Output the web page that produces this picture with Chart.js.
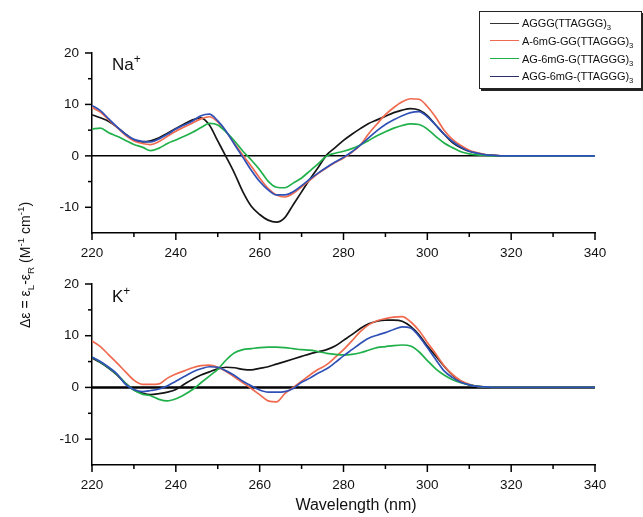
<!DOCTYPE html>
<html>
<head>
<meta charset="utf-8">
<script src="https://cdn.jsdelivr.net/npm/chart.js@4.4.1/dist/chart.umd.min.js"></script>
<style>
  html, body { margin:0; padding:0; background:#fff; }
  body { width:643px; height:517px; position:relative; overflow:hidden; font-family:"Liberation Sans", Arial, sans-serif; color:#111; }
  canvas { position:absolute; left:0; }
  .txt { position:absolute; white-space:nowrap; }
  #legend { position:absolute; left:479px; top:11px; width:161px; height:76px; border:1px solid #222; box-shadow:2px 2px 0 #222; background:#fff; }
  .row { position:absolute; left:10px; height:16px; font-size:11px; line-height:16px; letter-spacing:-0.1px; }
  .sw { display:inline-block; width:29px; height:0; border-top:1.6px solid; vertical-align:middle; margin-right:3px; position:relative; top:-1px; }
  sub, sup { font-size:70%; line-height:0; }
</style>
</head>
<body>
<canvas id="c1" width="643" height="262" style="top:0px"></canvas>
<canvas id="c2" width="643" height="240" style="top:255px"></canvas>

<div class="txt" style="left:112px; top:55px; font-size:17px;">Na<sup>+</sup></div>
<div class="txt" style="left:112px; top:287px; font-size:17px;">K<sup>+</sup></div>
<div class="txt" style="left:-125px; top:255px; width:300px; text-align:center; font-size:14px; line-height:20px; transform:rotate(-90deg);">Δε = ε<sub>L</sub>-ε<sub>R</sub> (M<sup>-1</sup> cm<sup>-1</sup>)</div>
<div class="txt" style="left:256px; top:496px; width:200px; text-align:center; font-size:16px;">Wavelength (nm)</div>

<div id="legend"></div>

<script>
// ---- data ----
const wavelengths = [];
for (let w = 220; w <= 340; w += 2) wavelengths.push(w);

const seriesNames = ['AGGG(TTAGGG)<sub>3</sub>', 'A-6mG-GG(TTAGGG)<sub>3</sub>', 'AG-6mG-G(TTAGGG)<sub>3</sub>', 'AGG-6mG-(TTAGGG)<sub>3</sub>'];
const seriesLabels = ['AGGG(TTAGGG)3', 'A-6mG-GG(TTAGGG)3', 'AG-6mG-G(TTAGGG)3', 'AGG-6mG-(TTAGGG)3'];

const naBlack = [8.0,7.4,6.7,5.6,4.2,3.1,2.7,2.9,3.5,4.4,5.3,6.2,7.0,7.4,6.0,2.9,-0.2,-3.4,-7.0,-9.8,-11.4,-12.5,-12.9,-12.0,-9.5,-7.0,-4.5,-2.2,0.2,1.6,3.0,4.2,5.3,6.3,7.0,7.7,8.4,8.9,9.2,8.9,7.8,6.0,4.2,2.6,1.6,0.9,0.5,0.2,0.1,0,0,0,0,0,0,0,0,0,0,0,0];
const naRed   = [9.4,8.5,7.0,5.5,4.0,2.9,2.4,2.2,2.8,3.8,4.8,5.6,6.4,7.2,7.6,6.6,4.7,2.4,0.1,-2.0,-4.3,-6.3,-7.6,-8.0,-7.3,-6.0,-4.7,-3.4,-2.3,-1.3,-0.4,0.7,2.1,4.3,6.2,8.0,9.4,10.5,11.1,11.0,9.6,7.5,5.0,3.2,2.0,1.1,0.6,0.2,0.1,0,0,0,0,0,0,0,0,0,0,0,0];
const naGreen = [5.2,5.4,4.5,3.8,3.0,2.2,1.7,1.0,1.5,2.4,3.1,3.8,4.6,5.5,6.3,6.0,4.6,2.9,0.9,-0.8,-2.7,-4.9,-6.1,-6.2,-5.3,-4.3,-2.9,-1.5,0.0,0.5,0.9,1.4,2.1,3.0,3.9,4.7,5.4,5.9,6.2,6.1,5.2,3.8,2.5,1.6,0.8,0.4,0.2,0.1,0,0,0,0,0,0,0,0,0,0,0,0,0];
const naBlue  = [9.8,8.8,7.2,5.6,4.2,3.2,2.8,2.7,3.3,4.2,5.2,6.0,6.8,7.8,8.1,6.8,4.8,2.2,-0.3,-2.8,-5.0,-6.6,-7.6,-7.6,-7.0,-5.8,-4.5,-3.3,-2.2,-1.2,-0.3,0.8,2.1,3.5,4.9,6.1,7.0,7.8,8.4,8.6,7.6,6.0,4.2,2.8,1.7,0.9,0.5,0.2,0.1,0,0,0,0,0,0,0,0,0,0,0,0];

const kBlack = [5.7,4.8,3.7,2.4,0.8,-0.5,-1.1,-1.4,-1.2,-0.9,-0.4,0.6,1.6,2.4,3.0,3.6,3.9,3.8,3.5,3.4,3.7,4.0,4.5,5.0,5.5,6.0,6.5,6.9,7.3,8.0,9.1,10.2,11.4,12.3,12.8,13.0,13.0,12.8,11.8,10.2,8.0,6.1,4.1,2.4,1.2,0.5,0.2,0.1,0,0,0,0,0,0,0,0,0,0,0,0,0];
const kRed   = [9.0,7.9,6.3,4.7,3.0,1.4,0.6,0.6,0.7,1.8,2.6,3.2,3.8,4.2,4.3,3.9,3.1,2.0,0.9,-0.2,-1.4,-2.6,-2.8,-1.2,0.0,1.2,2.4,3.5,4.4,5.8,7.3,9.0,10.8,12.1,12.9,13.3,13.6,13.7,12.7,11.0,8.7,6.5,4.2,2.5,1.3,0.6,0.2,0.1,0,0,0,0,0,0,0,0,0,0,0,0,0];
const kGreen = [5.9,4.9,3.8,2.5,0.8,-0.5,-1.3,-1.6,-2.3,-2.6,-2.2,-1.4,-0.4,0.9,2.2,3.5,5.3,6.7,7.3,7.5,7.7,7.8,7.8,7.7,7.5,7.3,7.2,6.9,6.6,6.4,6.3,6.4,6.7,7.2,7.7,7.9,8.1,8.2,8.0,6.9,5.2,3.6,2.4,1.5,0.9,0.5,0.2,0.1,0,0,0,0,0,0,0,0,0,0,0,0,0];
const kBlue  = [5.9,5.0,3.9,2.6,0.6,-0.4,-0.8,-0.6,-0.3,0.3,1.2,2.1,3.0,3.6,4.0,3.9,3.2,2.3,1.2,0.3,-0.5,-0.9,-0.9,-0.8,-0.2,1.0,1.8,2.8,3.6,4.8,6.1,7.3,8.5,9.5,10.1,10.6,11.2,11.7,11.5,9.9,7.7,5.4,3.2,1.9,1.0,0.5,0.2,0.1,0,0,0,0,0,0,0,0,0,0,0,0,0];

const xTicksMajor = [220, 240, 260, 280, 300, 320, 340];
const yTicksMajor = [-10, 0, 10, 20];

// ---- style ----
const lineColors = ['#151515', '#ef6a4f', '#20b04a', '#2f50b6'];
const legendColors = ['#333', '#ef6a4f', '#20b04a', '#2a2d66'];
const FONT = '"Liberation Sans", Arial, sans-serif';

// legend
const lg = document.getElementById('legend');
seriesNames.forEach((n, i) => {
  const r = document.createElement('div');
  r.className = 'row';
  r.style.top = (3 + i * 17.8) + 'px';
  r.innerHTML = '<span class="sw" style="border-top-color:' + legendColors[i] + '"></span>' + n;
  lg.appendChild(r);
});

const deco = {
  id: 'deco',
  beforeDatasetsDraw(chart, args, opts) {
    const { ctx, chartArea: a, scales: { y } } = chart;
    const yz = y.getPixelForValue(0);
    ctx.save();
    ctx.strokeStyle = '#000';
    ctx.lineWidth = opts.zeroWidth;
    ctx.beginPath(); ctx.moveTo(a.left, yz); ctx.lineTo(a.right, yz); ctx.stroke();
    ctx.restore();
  },
  afterDraw(chart) {
    const { ctx, chartArea: a, scales: { x, y } } = chart;
    ctx.save();
    ctx.strokeStyle = '#000';
    ctx.lineWidth = 1.5;
    x.ticks.forEach(t => {
      const px = x.getPixelForValue(t.value);
      const len = xTicksMajor.includes(t.value) ? 7 : 4;
      ctx.beginPath(); ctx.moveTo(px, a.bottom); ctx.lineTo(px, a.bottom + len); ctx.stroke();
    });
    y.ticks.forEach(t => {
      if (t.value === y.min) return;
      const py = y.getPixelForValue(t.value);
      const len = yTicksMajor.includes(t.value) ? 7 : 4;
      ctx.beginPath(); ctx.moveTo(a.left, py); ctx.lineTo(a.left - len, py); ctx.stroke();
    });
    ctx.restore();
  }
};

function makeChart(id, vals, zeroWidth) {
  const datasets = vals.map((v, i) => ({
    label: seriesLabels[i],
    data: v,
    borderColor: lineColors[i],
    borderWidth: 1.7,
    pointRadius: 0,
    fill: false,
    cubicInterpolationMode: 'monotone',
    order: 4 - i
  }));
  return new Chart(document.getElementById(id), {
    type: 'line',
    data: { labels: wavelengths, datasets },
    plugins: [deco],
    options: {
      responsive: false,
      animation: false,
      events: [],
      layout: { padding: { left: 0, right: 48, top: id === 'c1' ? 53 : 29, bottom: 0 } },
      plugins: { legend: { display: false }, tooltip: { enabled: false }, deco: { zeroWidth } },
      scales: {
        x: {
          type: 'linear', min: 220, max: 340,
          ticks: { stepSize: 10, autoSkip: false, maxRotation: 0, padding: 5, color: '#111',
                   font: { family: FONT, size: 13.5 },
                   callback: v => xTicksMajor.includes(v) ? String(v) : '' },
          grid: { display: true, drawOnChartArea: false, drawTicks: true, tickLength: 7, color: 'rgba(0,0,0,0)' },
          border: { display: true, color: '#000', width: 1.5 },
          afterFit: s => { s.height = id === 'c1' ? 29 : 30; }
        },
        y: {
          min: -15, max: 20,
          ticks: { stepSize: 5, autoSkip: false, padding: 6, color: '#111',
                   font: { family: FONT, size: 13.5 },
                   callback: v => yTicksMajor.includes(v) ? String(v) : '' },
          grid: { display: true, drawOnChartArea: false, drawTicks: true, tickLength: 7, color: 'rgba(0,0,0,0)' },
          border: { display: true, color: '#000', width: 1.5 },
          afterFit: s => { s.width = 92; }
        }
      }
    }
  });
}

makeChart('c1', [naBlack, naRed, naGreen, naBlue], 1.5);
makeChart('c2', [kBlack, kRed, kGreen, kBlue], 2.5);
</script>
</body>
</html>
